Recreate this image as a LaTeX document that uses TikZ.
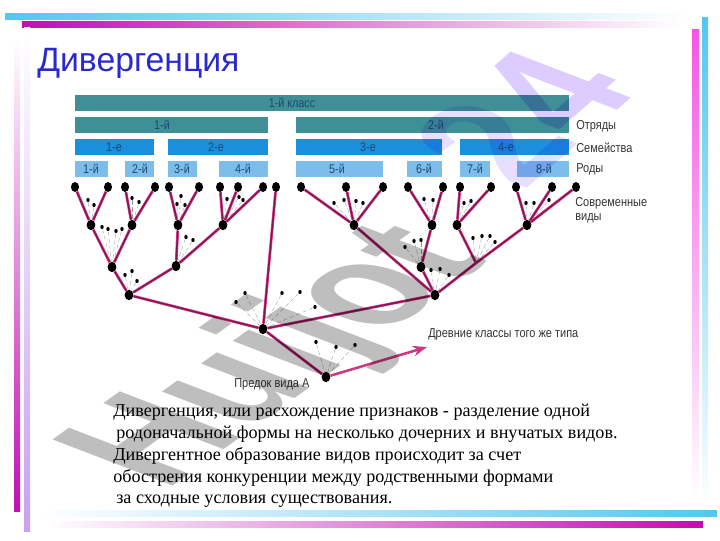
\documentclass[tikz,border=0pt]{standalone}
\usepackage{fontspec}
\usepackage{xcolor}
\usepackage{tikz}
\usetikzlibrary{arrows.meta, shapes.geometric, calc}
\setmainfont{Liberation Serif}
\newfontfamily\titlefont{Liberation Sans}
\newfontfamily\labelfont[FakeStretch=0.85]{Liberation Sans}
\definecolor{classteal}{HTML}{3F8F96}
\definecolor{familyblue}{HTML}{1A8FDE}
\definecolor{genusblue}{HTML}{7DBDEB}
\definecolor{branchred}{HTML}{7E1A52}
\definecolor{branchpink}{HTML}{E0408F}
\definecolor{titleblue}{HTML}{2A2ACC}
\definecolor{labelnavy}{HTML}{1B4A70}
\definecolor{stripecyan}{HTML}{55C6F0}
\definecolor{stripemag}{HTML}{C010B0}
\definecolor{stripepink}{HTML}{F555E5}
\definecolor{stripelilac}{HTML}{C8A0F0}
\definecolor{markgray}{HTML}{BEBEBE}
\definecolor{marklilac}{HTML}{DDCCFF}
\definecolor{marklilacpale}{HTML}{E8DEFF}
\tikzset{
  barbox/.style={inner sep=0pt, minimum height=0.4cm},
  barlabel/.style={text=labelnavy, font=\labelfont\fontsize{9}{10}\selectfont, inner sep=0pt},
  sidelabel/.style={text=black!80, font=\labelfont\fontsize{9.2}{10}\selectfont, inner sep=0pt, anchor=west},
  bodyline/.style={text=black, font=\fontsize{12.9}{14}\selectfont, inner sep=0pt, anchor=base west},
  spnode/.style={ellipse, fill=black, inner sep=0pt, minimum width=0.2cm, minimum height=0.25cm},
  bignode/.style={ellipse, fill=black, inner sep=0pt, minimum width=0.22cm, minimum height=0.26cm},
  dotnode/.style={ellipse, fill=black, inner sep=0pt, minimum width=0.085cm, minimum height=0.105cm},
  branch/.style={draw=branchred, line width=1.1pt, preaction={draw=branchpink, line width=2pt}},
  fanline/.style={draw=black!40, line width=0.25pt, densely dashed},
  markword/.style={transform shape, font=\titlefont\bfseries\fontsize{133}{133}\selectfont, inner sep=0pt, anchor=base west},
}
\begin{document}
\begin{tikzpicture}[x=0.025cm, y=-0.025cm]
    \useasboundingbox (0,0) rectangle (720,540);
    % Frame stripes
    \shade[left color=stripecyan, right color=white] (5,13) rectangle (692,19);
    \shade[left color=stripemag, middle color=stripepink!85, right color=white] (22,21) rectangle (682,27);
    \shade[top color=white, bottom color=stripemag] (14,40) rectangle (20,511);
    \shade[top color=white, bottom color=stripelilac] (24,27) rectangle (30,531);
    \shade[top color=stripepink, bottom color=white] (692,29) rectangle (699,500);
    \shade[top color=stripecyan, bottom color=white] (702,17) rectangle (708,510);
    \shade[left color=white, right color=stripecyan] (40,510) rectangle (717,516);
    \shade[left color=white, middle color=stripepink!85, right color=stripemag] (45,521) rectangle (703,527);
    % Title
    \node[text=titleblue, font=\titlefont\fontsize{24}{26}\selectfont, inner sep=0pt, anchor=base west] (title) at (37,71) {Дивергенция};
    % Taxon bars
    \foreach \nm/\xa/\xb/\ym/\col/\lx/\txt in {
        cls/75/569/103/classteal/292/1-й класс,
        ord1/75/268/125/classteal/162/1-й, ord2/296/569/125/classteal/436/2-й,
        fam1/75/154/147/familyblue/114/1-е, fam2/168/268/147/familyblue/216/2-е,
        fam3/296/442/147/familyblue/368/3-е, fam4/460/569/147/familyblue/506/4-е,
        gen1/75/108/169/genusblue/91/1-й, gen2/125/154/169/genusblue/140/2-й,
        gen3/168/197/169/genusblue/182/3-й, gen4/219/268/169/genusblue/243/4-й,
        gen5/296/383/169/genusblue/337/5-й, gen6/407/442/169/genusblue/424/6-й,
        gen7/460/490/169/genusblue/475/7-й, gen8/517/569/169/genusblue/544/8-й} {
        \node[barbox, fill=\col, minimum width={(\xb-\xa)*0.025cm}] (\nm) at ({(\xa+\xb)/2},\ym) {};
        \node[barlabel] (lab\nm) at (\lx,\ym) {\txt};
    }
    % Side labels
    \node[sidelabel] (lord) at (576,126) {Отряды};
    \node[sidelabel] (lfam) at (576,148) {Семейства};
    \node[sidelabel] (lgen) at (576,169) {Роды};
    \node[sidelabel] (lsp1) at (575,203) {Современные};
    \node[sidelabel] (lsp2) at (575,218) {виды};
    \node[sidelabel] (lold) at (428,334) {Древние классы того же типа};
    \node[sidelabel] (lanc) at (234,384) {Предок вида А};
    % Modern species
    \foreach \nm/\x in {a/75, b/108, c/125, d/155, e/169, f/199, g/220, h/238, i/263, j/276,
        k/301, l/346, m/383, n/408, o/443, p/460, q/491, r/516, s/552, t/576} {
        \node[spnode] (s\nm) at (\x,187) {};
    }
    % Branch points
    \foreach \nm/\x/\y in {u1/91/225, u2/132/225, u3/178/225, u4/223/225, u5/354/225, u6/432/225, u7/457/225, u8/527/225,
        v1/112/267, v2/176/266, v3/421/267, w1/129/295, w2/435/295, root/263/329, anc/326/377} {
        \node[bignode] (\nm) at (\x,\y) {};
    }
    \coordinate (v4) at (476,263);
    \coordinate (oldend) at (427,347);
    % Dotted fans
    \foreach \nm/\x/\y/\to in {f1/88/200/u1, f2/94/205/u1, f3/132/198/u2, f4/139/202/u2, f5/181/196/u3, f6/177/204/u3, f7/185/205/u3,
        f8/227/199/u4, f9/239/197/u4, f10/243/200/u4, f11/102/227/v1, f12/108/229/v1, f13/116/231/v1, f14/122/229/v1,
        f15/186/237/v2, f16/193/240/v2, f17/125/275/w1, f18/132/271/w1, f19/137/281/w1,
        f20/245/293/root, f21/236/302/root, f22/282/293/root, f23/300/292/root, f24/315/307/root,
        f25/316/342/anc, f26/336/347/anc, f27/355/345/anc,
        f28/334/203/u5, f29/344/200/u5, f30/356/201/u5, f31/363/203/u5, f32/424/199/u6, f33/433/200/u6,
        f34/464/203/u7, f35/471/201/u7, f36/526/203/u8, f37/534/203/u8, f38/549/200/u8,
        f39/405/247/v3, f40/414/241/v3, f41/421/240/v3, f42/431/270/w2, f43/440/269/w2, f44/449/275/w2,
        f45/473/238/v4, f46/482/236/v4, f47/490/236/v4, f48/495/242/v4} {
        \node[dotnode] (\nm) at (\x,\y) {};
        \draw[fanline] (\nm) -- (\to);
    }
    % Branches
    \foreach \a/\b in {sa/u1, sb/u1, sc/u2, sd/u2, se/u3, sf/u3, sg/u4, sh/u4, si/u4, sk/u5, sl/u5, sm/u5,
        sn/u6, so/u6, sp/u7, sq/u7, sr/u8, ss/u8, st/u8,
        u1/v1, u2/v1, u3/v2, u4/v2, u6/v3, u7/v4, u8/v4, v4/w2, u5/w2, v3/w2,
        v1/w1, v2/w1, w1/root, w2/root, sj/root, root/anc} {
        \draw[branch] (\a) -- (\b);
    }
    \draw[draw=branchpink!80!branchred, line width=1.8pt, -{Stealth[length=3.5mm, width=2.6mm, fill=magenta]}] (anc) -- (oldend);
    % Text below
    \node[bodyline] (body1) at (113,416) {Дивергенция, или расхождение признаков - разделение одной};
    \node[bodyline] (body2) at (116,438) {родоначальной формы на несколько дочерних и внучатых видов.};
    \node[bodyline] (body3) at (113,460) {Дивергентное образование видов происходит за счет};
    \node[bodyline] (body4) at (113,482) {обострения конкуренции между родственными формами};
    \node[bodyline] (body5) at (116,503) {за сходные условия существования.};
    % Watermark
    \begin{scope}[blend mode=multiply]
        \node[markword, cm={0.612,0.438,-0.934,0.358,(165,492)}, text=markgray] (markword) at (0,0) {Huijot};
        \node[markword, cm={0.569,0.494,-0.934,0.358,(523,192)}, text=marklilac] (marknum) at (0,0) {\textcolor{marklilacpale}{2}4};
    \end{scope}
\end{tikzpicture}
\end{document}
